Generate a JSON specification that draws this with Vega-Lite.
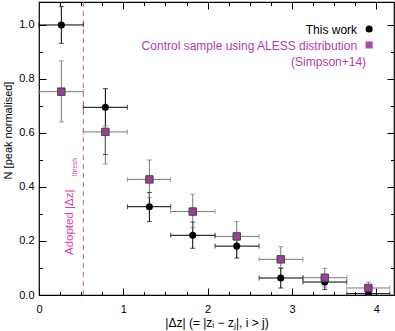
{
  "$schema": "https://vega.github.io/schema/vega-lite/v6.json",
  "width": 355,
  "height": 293,
  "autosize": "none",
  "padding": {"left": 39, "top": 2, "right": 1, "bottom": 36},
  "config": {
    "font": "Liberation Sans",
    "view": {"stroke": "#000", "strokeWidth": 1.2},
    "axis": {"grid": false, "domain": false, "tickColor": "#000", "labelColor": "#000", "labelFontSize": 11, "titleFontSize": 12, "titleFontWeight": "normal", "titleColor": "#000", "tickWidth": 1}
  },
  "datasets": {
    "one": [{}],
    "pts": [
      {"series": "This work", "x": 0.265, "y": 1.0, "xlo": 0, "xhi": 0.526, "ylo": 0.932, "yhi": 1.068},
      {"series": "This work", "x": 0.787, "y": 0.695, "xlo": 0.526, "xhi": 1.048, "ylo": 0.52, "yhi": 0.764},
      {"series": "This work", "x": 1.309, "y": 0.327, "xlo": 1.048, "xhi": 1.562, "ylo": 0.272, "yhi": 0.38},
      {"series": "This work", "x": 1.823, "y": 0.221, "xlo": 1.562, "xhi": 2.088, "ylo": 0.173, "yhi": 0.27},
      {"series": "This work", "x": 2.345, "y": 0.181, "xlo": 2.088, "xhi": 2.61, "ylo": 0.137, "yhi": 0.21},
      {"series": "This work", "x": 2.867, "y": 0.063, "xlo": 2.61, "xhi": 3.13, "ylo": 0.026, "yhi": 0.099},
      {"series": "This work", "x": 3.389, "y": 0.048, "xlo": 3.13, "xhi": 3.65, "ylo": 0.02, "yhi": 0.07},
      {"series": "This work", "x": 3.906, "y": 0.005, "xlo": 3.65, "xhi": 4.16, "ylo": 0.0, "yhi": 0.012},
      {"series": "Control", "x": 0.265, "y": 0.753, "xlo": 0, "xhi": 0.526, "ylo": 0.641, "yhi": 0.867},
      {"series": "Control", "x": 0.787, "y": 0.604, "xlo": 0.526, "xhi": 1.048, "ylo": 0.485, "yhi": 0.627},
      {"series": "Control", "x": 1.309, "y": 0.428, "xlo": 1.048, "xhi": 1.562, "ylo": 0.36, "yhi": 0.5},
      {"series": "Control", "x": 1.823, "y": 0.309, "xlo": 1.562, "xhi": 2.088, "ylo": 0.25, "yhi": 0.373},
      {"series": "Control", "x": 2.345, "y": 0.217, "xlo": 2.088, "xhi": 2.61, "ylo": 0.17, "yhi": 0.272},
      {"series": "Control", "x": 2.867, "y": 0.132, "xlo": 2.61, "xhi": 3.13, "ylo": 0.101, "yhi": 0.179},
      {"series": "Control", "x": 3.389, "y": 0.064, "xlo": 3.13, "xhi": 3.65, "ylo": 0.03, "yhi": 0.099},
      {"series": "Control", "x": 3.906, "y": 0.026, "xlo": 3.65, "xhi": 4.16, "ylo": 0.0, "yhi": 0.048}
    ]
  },
  "resolve": {"axis": {"x": "independent", "y": "independent"}},
  "layer": [
    {
      "data": {"name": "one"},
      "mark": {"type": "rule", "strokeDash": [5, 4], "color": "#e050b0", "strokeWidth": 1},
      "encoding": {
        "x": {"datum": 0.526, "type": "quantitative", "scale": {"domain": [0, 4.21], "nice": false, "zero": false},
          "axis": {"orient": "bottom", "values": [0, 1, 2, 3, 4], "tickSize": -7, "labelPadding": 15, "labelFlush": false, "title": "|Δz|  (= |zᵢ − zⱼ|,  i > j)", "titleY": 27, "titleBaseline": "middle"}}
      }
    },
    {
      "data": {"name": "pts"},
      "mark": {"type": "rule", "strokeWidth": 1},
      "encoding": {
        "x": {"field": "xlo", "type": "quantitative", "scale": {"domain": [0, 4.21], "nice": false, "zero": false},
          "axis": {"orient": "bottom", "values": [0.25, 0.5, 0.75, 1.25, 1.5, 1.75, 2.25, 2.5, 2.75, 3.25, 3.5, 3.75, 4.0], "tickSize": -3.5, "labels": false, "title": null}},
        "x2": {"field": "xhi"},
        "y": {"field": "y", "type": "quantitative", "scale": {"domain": [0, 1.085], "nice": false, "zero": false},
          "axis": {"orient": "left", "values": [0, 0.2, 0.4, 0.6, 0.8, 1.0], "format": ".1f", "tickSize": -7, "labelPadding": 12, "title": "N [peak normalised]", "titleFontSize": 11, "titleX": -31, "titleY": 128, "titleAngle": -90, "titleBaseline": "middle"}},
        "color": {"field": "series", "type": "nominal", "scale": {"domain": ["This work", "Control"], "range": ["#000000", "#7a7a7a"]}, "legend": null}
      }
    },
    {
      "data": {"name": "pts"},
      "mark": {"type": "rule", "strokeWidth": 1},
      "encoding": {
        "x": {"field": "x", "type": "quantitative", "scale": {"domain": [0, 4.21], "nice": false, "zero": false},
          "axis": {"orient": "top", "values": [1, 2, 3, 4], "tickSize": -7, "labels": false, "title": null}},
        "y": {"field": "ylo", "type": "quantitative", "scale": {"domain": [0, 1.085], "nice": false, "zero": false},
          "axis": {"orient": "left", "values": [0.1, 0.3, 0.5, 0.7, 0.9], "tickSize": -3.5, "labels": false, "title": null}},
        "y2": {"field": "yhi"},
        "color": {"field": "series", "type": "nominal", "scale": {"domain": ["This work", "Control"], "range": ["#000000", "#7a7a7a"]}, "legend": null}
      }
    },
    {
      "data": {"name": "pts"},
      "mark": {"type": "tick", "orient": "vertical", "size": 5, "thickness": 1},
      "encoding": {
        "x": {"field": "xlo", "type": "quantitative", "scale": {"domain": [0, 4.21], "nice": false, "zero": false},
          "axis": {"orient": "top", "values": [0.25, 0.5, 0.75, 1.25, 1.5, 1.75, 2.25, 2.5, 2.75, 3.25, 3.5, 3.75, 4.0], "tickSize": -3.5, "labels": false, "title": null}},
        "y": {"field": "y", "type": "quantitative", "scale": {"domain": [0, 1.085], "nice": false, "zero": false},
          "axis": {"orient": "right", "values": [0, 0.2, 0.4, 0.6, 0.8, 1.0], "tickSize": -7, "labels": false, "title": null}},
        "color": {"field": "series", "type": "nominal", "scale": {"domain": ["This work", "Control"], "range": ["#000000", "#7a7a7a"]}, "legend": null}
      }
    },
    {
      "data": {"name": "pts"},
      "mark": {"type": "tick", "orient": "vertical", "size": 5, "thickness": 1},
      "encoding": {
        "x": {"field": "xhi", "type": "quantitative", "scale": {"domain": [0, 4.21], "nice": false, "zero": false}, "axis": null},
        "y": {"field": "y", "type": "quantitative", "scale": {"domain": [0, 1.085], "nice": false, "zero": false},
          "axis": {"orient": "right", "values": [0.1, 0.3, 0.5, 0.7, 0.9], "tickSize": -3.5, "labels": false, "title": null}},
        "color": {"field": "series", "type": "nominal", "scale": {"domain": ["This work", "Control"], "range": ["#000000", "#7a7a7a"]}, "legend": null}
      }
    },
    {
      "data": {"name": "pts"},
      "mark": {"type": "tick", "orient": "horizontal", "size": 5, "thickness": 1},
      "encoding": {
        "x": {"field": "x", "type": "quantitative", "scale": {"domain": [0, 4.21], "nice": false, "zero": false}, "axis": null},
        "y": {"field": "ylo", "type": "quantitative", "scale": {"domain": [0, 1.085], "nice": false, "zero": false}, "axis": null},
        "color": {"field": "series", "type": "nominal", "scale": {"domain": ["This work", "Control"], "range": ["#000000", "#7a7a7a"]}, "legend": null}
      }
    },
    {
      "data": {"name": "pts"},
      "mark": {"type": "tick", "orient": "horizontal", "size": 5, "thickness": 1},
      "encoding": {
        "x": {"field": "x", "type": "quantitative", "scale": {"domain": [0, 4.21], "nice": false, "zero": false}, "axis": null},
        "y": {"field": "yhi", "type": "quantitative", "scale": {"domain": [0, 1.085], "nice": false, "zero": false}, "axis": null},
        "color": {"field": "series", "type": "nominal", "scale": {"domain": ["This work", "Control"], "range": ["#000000", "#7a7a7a"]}, "legend": null}
      }
    },
    {
      "data": {"name": "pts"},
      "transform": [{"filter": "datum.series === 'This work'"}],
      "mark": {"type": "point", "shape": "circle", "filled": true, "color": "#000", "size": 50, "opacity": 1, "clip": true},
      "encoding": {
        "x": {"field": "x", "type": "quantitative", "scale": {"domain": [0, 4.21], "nice": false, "zero": false}, "axis": null},
        "y": {"field": "y", "type": "quantitative", "scale": {"domain": [0, 1.085], "nice": false, "zero": false}, "axis": null}
      }
    },
    {
      "data": {"name": "pts"},
      "transform": [{"filter": "datum.series === 'Control'"}],
      "mark": {"type": "square", "filled": true, "fill": "#a03c9c", "stroke": "#444", "strokeWidth": 1, "size": 55, "opacity": 1},
      "encoding": {
        "x": {"field": "x", "type": "quantitative", "scale": {"domain": [0, 4.21], "nice": false, "zero": false}, "axis": null},
        "y": {"field": "y", "type": "quantitative", "scale": {"domain": [0, 1.085], "nice": false, "zero": false}, "axis": null}
      }
    },
    {
      "data": {"name": "one"},
      "mark": {"type": "text", "align": "right", "baseline": "middle", "fontSize": 12, "color": "#000", "text": "This work"},
      "encoding": {
        "x": {"datum": 3.772, "type": "quantitative", "scale": {"domain": [0, 4.21], "nice": false, "zero": false}, "axis": null},
        "y": {"datum": 0.981, "type": "quantitative", "scale": {"domain": [0, 1.085], "nice": false, "zero": false}, "axis": null}
      }
    },
    {
      "data": {"name": "one"},
      "mark": {"type": "text", "align": "right", "baseline": "middle", "fontSize": 12, "color": "#b040a8", "text": "Control sample using ALESS distribution"},
      "encoding": {
        "x": {"datum": 3.772, "type": "quantitative", "scale": {"domain": [0, 4.21], "nice": false, "zero": false}, "axis": null},
        "y": {"datum": 0.922, "type": "quantitative", "scale": {"domain": [0, 1.085], "nice": false, "zero": false}, "axis": null}
      }
    },
    {
      "data": {"name": "one"},
      "mark": {"type": "text", "align": "right", "baseline": "middle", "fontSize": 12, "color": "#b040a8", "text": "(Simpson+14)"},
      "encoding": {
        "x": {"datum": 3.879, "type": "quantitative", "scale": {"domain": [0, 4.21], "nice": false, "zero": false}, "axis": null},
        "y": {"datum": 0.863, "type": "quantitative", "scale": {"domain": [0, 1.085], "nice": false, "zero": false}, "axis": null}
      }
    },
    {
      "data": {"name": "one"},
      "mark": {"type": "point", "shape": "circle", "filled": true, "color": "#000", "size": 50, "opacity": 1},
      "encoding": {
        "x": {"datum": 3.915, "type": "quantitative", "scale": {"domain": [0, 4.21], "nice": false, "zero": false}, "axis": null},
        "y": {"datum": 0.985, "type": "quantitative", "scale": {"domain": [0, 1.085], "nice": false, "zero": false}, "axis": null}
      }
    },
    {
      "data": {"name": "one"},
      "mark": {"type": "square", "filled": true, "color": "#b04ca8", "size": 50, "opacity": 1},
      "encoding": {
        "x": {"datum": 3.915, "type": "quantitative", "scale": {"domain": [0, 4.21], "nice": false, "zero": false}, "axis": null},
        "y": {"datum": 0.926, "type": "quantitative", "scale": {"domain": [0, 1.085], "nice": false, "zero": false}, "axis": null}
      }
    },
    {
      "data": {"name": "one"},
      "mark": {"type": "text", "align": "left", "baseline": "middle", "angle": 270, "fontSize": 11.5, "color": "#e040a8", "text": "Adopted |Δz|"},
      "encoding": {
        "x": {"datum": 0.368, "type": "quantitative", "scale": {"domain": [0, 4.21], "nice": false, "zero": false}, "axis": null},
        "y": {"datum": 0.148, "type": "quantitative", "scale": {"domain": [0, 1.085], "nice": false, "zero": false}, "axis": null}
      }
    },
    {
      "data": {"name": "one"},
      "mark": {"type": "text", "align": "left", "baseline": "middle", "angle": 270, "fontSize": 6.5, "color": "#e040a8", "text": "thresh"},
      "encoding": {
        "x": {"datum": 0.425, "type": "quantitative", "scale": {"domain": [0, 4.21], "nice": false, "zero": false}, "axis": null},
        "y": {"datum": 0.44, "type": "quantitative", "scale": {"domain": [0, 1.085], "nice": false, "zero": false}, "axis": null}
      }
    }
  ]
}
